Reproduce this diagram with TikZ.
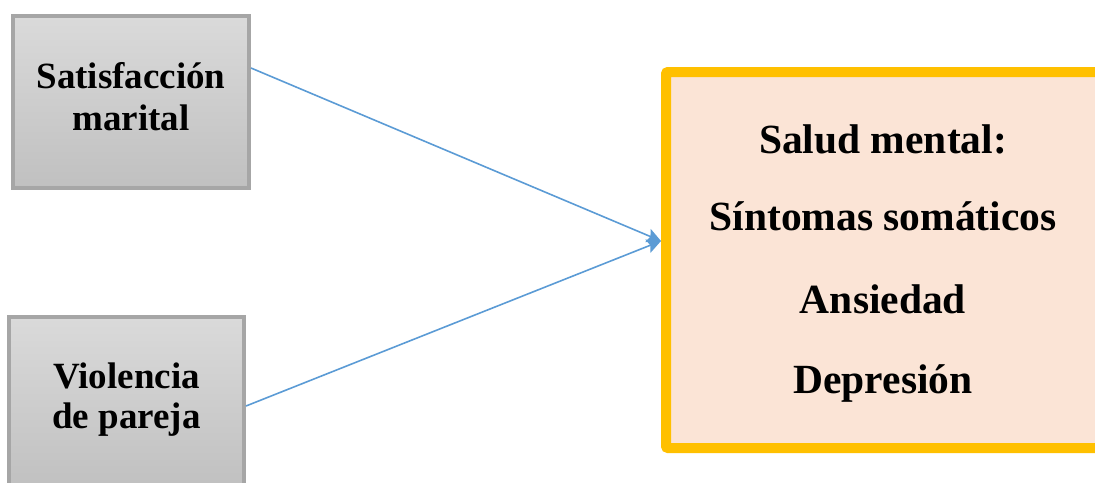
\documentclass[tikz,border=0pt]{standalone}
\usepackage{fontspec}
\setmainfont{Liberation Serif}
\usetikzlibrary{arrows.meta}

\definecolor{boxgray}{RGB}{166,166,166}
\definecolor{graytop}{RGB}{218,218,218}
\definecolor{graybot}{RGB}{192,192,192}
\definecolor{gold}{RGB}{255,192,0}
\definecolor{peach}{RGB}{251,228,214}
\definecolor{linkblue}{RGB}{91,155,213}

\tikzset{
  graybox/.style={draw=boxgray, line width=4pt, top color=graytop, bottom color=graybot,
    minimum width=236pt, minimum height=172pt, inner sep=0pt},
  outcomebox/.style={draw=gold, line width=10pt, fill=peach, rounded corners=2pt,
    minimum width=434pt, minimum height=376pt, inner sep=0pt},
  lefttext/.style={align=center, inner sep=0pt, font=\bfseries\fontsize{37}{42}\selectfont},
  righttext/.style={anchor=base, inner sep=0pt, font=\bfseries\fontsize{41.5}{48}\selectfont},
  link/.style={draw=linkblue, line width=1.6pt, -{Stealth[length=14pt,width=14pt,inset=2.5pt]}}
}

\begin{document}
\begin{tikzpicture}[x=1pt, y=-1pt]
  \useasboundingbox (0,0) rectangle (1095,482);
  \clip (0,0) rectangle (1095,482);

  % predictor boxes
  \node[graybox] (sat) at (131,102) {};
  \node[lefttext] (sat-label) at ([yshift=5pt]sat.center) {Satisfacción\\marital};

  \node[graybox, minimum width=235pt] (vio) at (126.5,403) {};
  \node[lefttext, font=\bfseries\fontsize{37}{40}\selectfont] (vio-label)
    at ([yshift=3.5pt]vio.center) {Violencia\\de pareja};

  % outcome box
  \node[outcomebox] (salud) at (883,260) {};
  \node[righttext] (t1) at (883,153) {Salud mental:};
  \node[righttext] (t2) at (883,230) {Síntomas somáticos};
  \node[righttext] (t3) at (883,313) {Ansiedad};
  \node[righttext] (t4) at (883,393) {Depresión};

  % links
  \draw[link] ([yshift=34pt]sat.east) -- ([yshift=19pt]salud.west);
  \draw[link] ([yshift=-3pt]vio.east) -- ([yshift=19pt]salud.west);
\end{tikzpicture}
\end{document}
